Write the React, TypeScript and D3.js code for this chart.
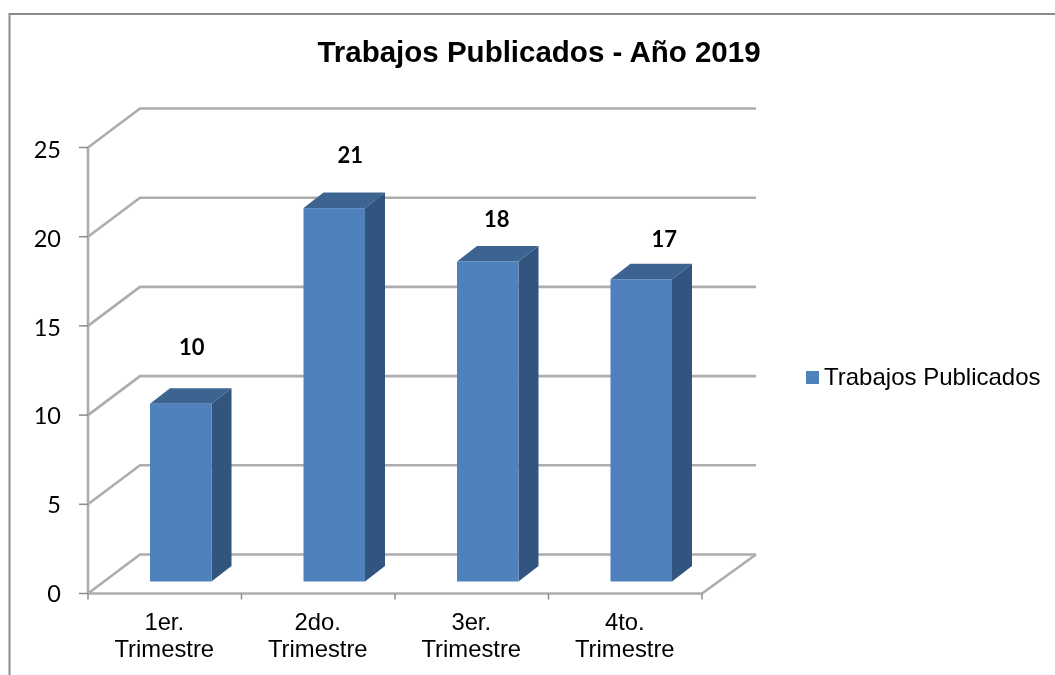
import React from "react";
import * as d3 from "d3";

const categories = ["1er.|Trimestre", "2do.|Trimestre", "3er.|Trimestre", "4to.|Trimestre"];
const values = [10, 21, 18, 17];
const yTicks = [0, 5, 10, 15, 20, 25];
const title = "Trabajos Publicados - Año 2019";
const seriesName = "Trabajos Publicados";

const W = 1055, H = 675;
const DX = 52, DY = 39;
const BAR_DX = 20, BAR_DY = 15.5;
const x = d3.scaleBand<string>().domain(categories).range([88, 702]);
const y = d3.scaleLinear().domain([0, 25]).range([593.5, 147.5]);
const yLabel = d3.scaleLinear().domain([0, 25]).range([601.7, 158.3]);
const barY = d3.scaleLinear().domain([0, 25]).range([581.5, 137]);
const barWidth = 61.5;
const barShift = 16;
const labelShift: [number, number][] = [[1, -49], [6, -45.5], [-1, -34.5], [13, -32.5]];

const GRID = "#adadad";
const TICK = "#8c8c8c";
const FRONT = "#4f81bd";
const TOP = "#3d6491";
const SIDE = "#325480";

const line = d3.line();

export default function App() {
  const x0 = x.range()[0], x1 = x.range()[1];
  const rightEnd = x1 + 54;
  return (
    <svg width={W} height={H} viewBox={`0 0 ${W} ${H}`}
      style={{ position: "absolute", left: 0, top: 0, background: "#fff" }}>
      <defs>
        <filter id="soft" x="-5%" y="-5%" width="110%" height="110%">
          <feGaussianBlur stdDeviation="0.6" />
        </filter>
        <filter id="softText" x="-5%" y="-5%" width="110%" height="110%">
          <feGaussianBlur stdDeviation="0.3" />
        </filter>
      </defs>
      <path d="M9.5,675V14H1055" fill="none" stroke="#8a8a8a" strokeWidth={2} />

      <g filter="url(#soft)" fill="none">
        {yTicks.map((t) => (
          <path key={t}
            d={line([[x0, y(t)], [x0 + DX, y(t) - DY], [rightEnd, y(t) - DY]]) || ""}
            stroke={GRID} strokeWidth={2.6} />
        ))}
        <path d={line([[x0, y(0)], [x1, y(0)], [rightEnd, y(0) - DY]]) || ""} stroke={GRID} strokeWidth={2.6} />
        <path d={line([[x0, y(0)], [x0, y(25)]]) || ""} stroke={GRID} strokeWidth={2.6} />
        {yTicks.map((t) => (
          <path key={t} d={line([[x0 - 9, y(t)], [x0, y(t)]]) || ""} stroke={TICK} strokeWidth={1.5} />
        ))}
        {[...categories.map((c) => x(c) as number), x1].map((p) => (
          <path key={p} d={line([[p, y(0)], [p, y(0) + 6]]) || ""} stroke={TICK} strokeWidth={1.5} />
        ))}
      </g>

      <g filter="url(#soft)">
        {categories.map((c, i) => {
          const l = (x(c) as number) + x.bandwidth() / 2 + barShift - barWidth / 2;
          const r = l + barWidth;
          const b = barY(0);
          const t = barY(values[i]);
          return (
            <g key={c}>
              <path d={`M${l},${t}L${l + BAR_DX},${t - BAR_DY}H${r + BAR_DX}L${r},${t}Z`} fill={TOP} />
              <path d={`M${r},${t}L${r + BAR_DX},${t - BAR_DY}V${b - BAR_DY}L${r},${b}Z`} fill={SIDE} />
              <rect x={l} y={t} width={barWidth} height={b - t} fill={FRONT} />
            </g>
          );
        })}
      </g>

      <g filter="url(#softText)">
        <text x={539} y={62} textAnchor="middle" fontFamily="'Liberation Sans'" fontWeight={700} fontSize={29.5} fill="#000">{title}</text>

        {yTicks.map((t) => (
          <text key={t} x={61} y={yLabel(t)} textAnchor="end" fontFamily="Lato" fontSize={23.5} fill="#000">{t}</text>
        ))}

        {categories.map((c) => {
          const cx = (x(c) as number) + x.bandwidth() / 2 - 0.5;
          const [a, b] = c.split("|");
          return (
            <text key={c} textAnchor="middle" fontFamily="'Liberation Sans'" fontSize={23.8} fill="#000">
              <tspan x={cx} y={629.5}>{a}</tspan>
              <tspan x={cx} y={657}>{b}</tspan>
            </text>
          );
        })}

        {categories.map((c, i) => {
          const cx = (x(c) as number) + x.bandwidth() / 2 + barShift + BAR_DX / 2;
          return (
            <text key={c} x={cx + labelShift[i][0]} y={barY(values[i]) + labelShift[i][1]}
              textAnchor="middle" fontFamily="Lato" fontWeight={700} fontSize={22} fill="#000">{values[i]}</text>
          );
        })}

        <rect x={806} y={371} width={13} height={13} fill={FRONT} />
        <text x={824} y={385} fontFamily="'Liberation Sans'" fontSize={24} fill="#000">{seriesName}</text>
      </g>
    </svg>
  );
}
